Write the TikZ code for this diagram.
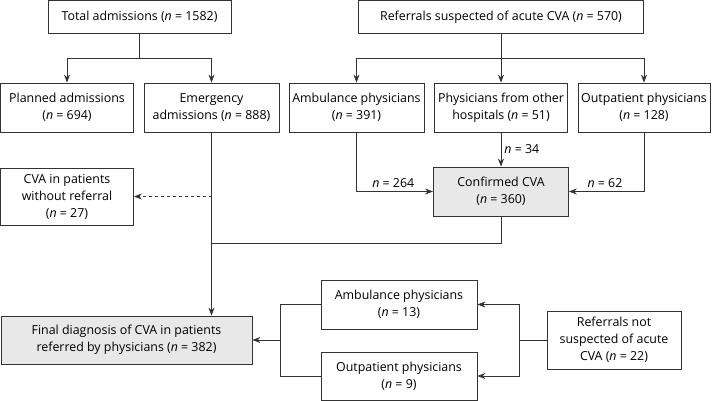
\documentclass[tikz,border=0pt]{standalone}
\usepackage{fontspec}
\setmainfont{Open Sans}
\usepackage{tikz}
\usetikzlibrary{calc, positioning, arrows, arrows.meta}
\definecolor{linegray}{HTML}{333333}
\definecolor{boxgray}{HTML}{E8E8E8}
\newcommand\nv{\textit{n}}
\tikzstyle{box}=[draw=linegray, line width=0.8pt, fill=white, align=center, inner sep=0pt, font=\fontsize{12.4}{17}\selectfont]
\tikzstyle{result box}=[box, fill=boxgray]
\tikzstyle{count}=[font=\fontsize{12.4}{17}\selectfont, inner sep=3pt]

\begin{document}
\begin{tikzpicture}[x=1pt, y=-1pt, ->, >={Stealth[length=8pt,width=6pt]}, draw=linegray, line width=0.8pt]
		\useasboundingbox (0,0) rectangle (713,401);

		% Top row
		\node[box, minimum width=183pt, minimum height=33pt] (total) at (139.5,17) {Total admissions (\nv{} = 1582)};
		\node[box, minimum width=285pt, minimum height=33pt] (refs) at (501,17) {Referrals suspected of acute CVA (\nv{} = 570)};

		% Second row
		\node[box, minimum width=133pt, minimum height=49pt] (planned) at (67,107.5) {Planned admissions\\(\nv{} = 694)};
		\node[box, minimum width=135pt, minimum height=49pt] (emerg) at (211.5,107.5) {Emergency\\admissions (\nv{} = 888)};
		\node[box, minimum width=135pt, minimum height=49pt] (amb) at (356.5,107.5) {Ambulance physicians\\(\nv{} = 391)};
		\node[box, minimum width=133pt, minimum height=49pt] (other) at (501,107.5) {Physicians from other\\hospitals (\nv{} = 51)};
		\node[box, minimum width=132pt, minimum height=49pt] (outp) at (644,107.5) {Outpatient physicians\\(\nv{} = 128)};

		% Middle boxes
		\node[box, minimum width=133pt, minimum height=57pt] (cva) at (67,196.5) {CVA in patients\\without referral\\(\nv{} = 27)};
		\node[result box, minimum width=135pt, minimum height=49pt] (conf) at (501,191.5) {Confirmed CVA\\(\nv{} = 360)};

		% Bottom boxes
		\node[result box, minimum width=251pt, minimum height=48pt] (final) at (126.5,340) {Final diagnosis of CVA in patients\\referred by physicians (\nv{} = 382)};
		\node[box, minimum width=156pt, minimum height=49pt] (amb13) at (399,304.5) {Ambulance physicians\\(\nv{} = 13)};
		\node[box, minimum width=156pt, minimum height=48pt] (out9) at (399,376) {Outpatient physicians\\(\nv{} = 9)};
		\node[box, minimum width=134pt, minimum height=58pt] (notref) at (614,340) {Referrals not\\suspected of acute\\CVA (\nv{} = 22)};

		% Split points
		\coordinate (T-split) at (139.5,58);
		\coordinate (R-split) at (501,58);
		\coordinate (join) at (211.5,243);
		\coordinate (dash-start) at (211.5,196.5);
		\coordinate (N-split) at (519,340);
		\coordinate (F-split) at (280,340);

		% Admissions
		\draw[-] (total) -- (T-split);
		\foreach \dest in {planned,emerg}
		\draw (T-split) -| (\dest);

		% Referrals
		\draw[-] (refs) -- (R-split);
		\foreach \dest in {amb,other,outp}
		\draw (R-split) -| (\dest);

		% Into confirmed CVA
		\draw (amb) |- node[count, pos=0.74, above] {\nv{} = 264} (conf);
		\draw (other) -- node[count, right] {\nv{} = 34} (conf);
		\draw (outp) |- node[count, pos=0.76, above] {\nv{} = 62} (conf);

		% Towards the final diagnosis
		\draw[-] (conf) |- (join);
		\draw (emerg) -- (emerg |- final.north);
		\draw[dashed] (dash-start) -- (cva);

		% Referrals not suspected
		\draw[-] (notref) -- (N-split);
		\foreach \dest in {amb13,out9}
		\draw (N-split) |- (\dest);
		\foreach \source in {amb13,out9}
		\draw[-] (\source) -| (F-split);
		\draw (F-split) -- (final);

	\end{tikzpicture}
\end{document}
